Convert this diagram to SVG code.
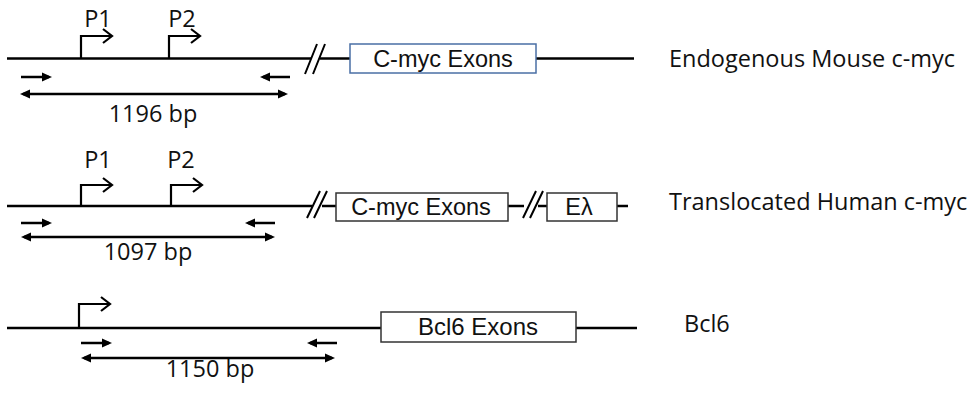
<svg xmlns="http://www.w3.org/2000/svg" width="967" height="398" viewBox="0 0 967 398">
<style>
.dna{stroke:#000;stroke-width:2.5;fill:none}
.slash{stroke:#000;stroke-width:2;fill:none}
.prom{stroke:#000;stroke-width:2.2;fill:none;marker-end:url(#open)}
.primer{stroke:#000;stroke-width:2.5;fill:none;marker-end:url(#tri)}
.span{stroke:#000;stroke-width:2.5;fill:none;marker-start:url(#triS);marker-end:url(#tri)}
.box{fill:#fff;stroke:#333;stroke-width:1.5}
.boxb{fill:#fff;stroke:#4A6FA5;stroke-width:1.5}
.lbl{font-family:"Open Sans",sans-serif;font-size:23.5px;fill:#111}
.btxt{font-family:"Liberation Sans",Arial,sans-serif;font-size:23.5px;fill:#111;text-anchor:middle}
.mid{text-anchor:middle}
</style>
<defs>
<marker id="tri" markerUnits="userSpaceOnUse" markerWidth="12" markerHeight="10" refX="7" refY="4.5" orient="auto" overflow="visible"><path d="M0,0 L10,4.5 L0,9 z" fill="#000"/></marker>
<marker id="triS" markerUnits="userSpaceOnUse" markerWidth="12" markerHeight="10" refX="7" refY="4.5" orient="auto-start-reverse" overflow="visible"><path d="M0,0 L10,4.5 L0,9 z" fill="#000"/></marker>
<marker id="open" markerUnits="userSpaceOnUse" markerWidth="12" markerHeight="16" refX="10" refY="7.5" orient="auto" overflow="visible"><path d="M1,0.5 L10,7.5 L1,14.5" fill="none" stroke="#000" stroke-width="2.2"/></marker>
</defs>
<g id="connectors">
<path class="dna" d="M7,58.5 H311"/>
<path class="dna" d="M320,58.5 H350"/>
<path class="slash" d="M305,74 L317,44 M313,74 L325,44"/>
<path class="dna" d="M536,58.5 H634"/>
<path class="dna" d="M7,206 H312"/>
<path class="slash" d="M307,218 L320,191 M314,218 L327,191"/>
<path class="dna" d="M322,206 H336"/>
<path class="dna" d="M508,206 H524"/>
<path class="slash" d="M523,218 L536,191 M530,218 L543,191"/>
<path class="dna" d="M538,206 H547"/>
<path class="dna" d="M617,206 H628"/>
<path class="dna" d="M7,328 H381"/>
<path class="dna" d="M576,328 H637"/>
</g>
<g id="promoters">
<path class="prom" d="M81,58.5 V36 H112"/>
<path class="prom" d="M169,58.5 V36 H200"/>
<path class="prom" d="M81,206 V185 H112"/>
<path class="prom" d="M171,206 V185 H202"/>
<path class="prom" d="M79,328 V304 H110"/>
</g>
<g id="primers">
<path class="primer" d="M21,77 H49"/>
<path class="primer" d="M290,77 H263"/>
<path class="span" d="M23,94 H285"/>
<path class="primer" d="M21,223 H49"/>
<path class="primer" d="M275,223 H248"/>
<path class="span" d="M24,237 H272"/>
<path class="primer" d="M81,343 H109"/>
<path class="primer" d="M337,343 H310"/>
<path class="span" d="M84,358 H332"/>
</g>
<g id="labels">
<text class="lbl mid" x="98" y="27">P1</text>
<text class="lbl mid" x="182" y="27">P2</text>
<text class="lbl mid" x="98" y="168">P1</text>
<text class="lbl mid" x="181" y="168">P2</text>
<text class="lbl mid" x="153" y="121.5">1196 bp</text>
<text class="lbl mid" x="148" y="260">1097 bp</text>
<text class="lbl mid" x="210" y="377">1150 bp</text>
</g>
<g id="node-cmyc-mouse">
<rect class="boxb" x="350" y="44" width="186" height="29"/>
<text class="btxt" x="443" y="67">C-myc Exons</text>
</g>
<g id="node-cmyc-human">
<rect class="box" x="336" y="193" width="172" height="28"/>
<text class="btxt" x="421" y="215">C-myc Exons</text>
</g>
<g id="node-elambda">
<rect class="box" x="547" y="193" width="70" height="28"/>
<text class="btxt" x="579" y="215">Eλ</text>
</g>
<g id="node-bcl6">
<rect class="box" x="381" y="312" width="195" height="30"/>
<text class="btxt" x="478" y="335" style="font-size:24px">Bcl6 Exons</text>
</g>
<g id="row-labels">
<text class="lbl" x="669" y="67">Endogenous Mouse c-myc</text>
<text class="lbl" x="669" y="210">Translocated Human c-myc</text>
<text class="lbl" x="684" y="332">Bcl6</text>
</g>
</svg>
